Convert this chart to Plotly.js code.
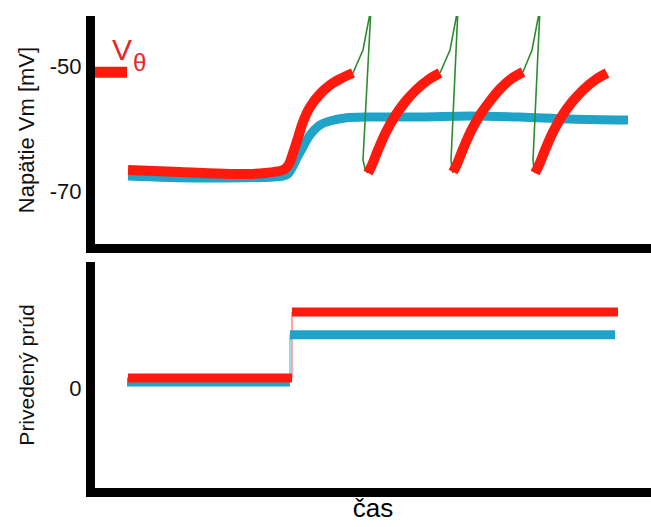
<!DOCTYPE html>
<html>
<head>
<meta charset="utf-8">
<script src="https://cdn.plot.ly/plotly-3.0.1.min.js"></script>
<style>html,body{margin:0;padding:0;background:#fff;}#chart{width:651px;height:527px;}</style>
</head>
<body>
<div id="chart"></div>
<script>
// ---- Membrane potential (top panel), time in arbitrary units, V in mV ----
// red trace (with threshold crossings), segments separated by null
var redT = [5.94, 15.29, 24.28, 30.58, 33.81, 34.53, 35.07, 35.79, 36.33, 37.41, 38.67, 40.47, 42.27, 44.06, 46.40, null,
            49.10, 49.82, 50.90, 52.34, 53.96, 55.76, 57.73, 59.89, 62.05, null,
            64.39, 65.11, 66.19, 67.63, 69.24, 71.04, 72.84, 74.82, 76.98, null,
            79.14, 79.86, 80.94, 82.37, 83.99, 85.79, 87.77, 89.93, 92.09];
var redV = [-66.64, -66.96, -67.28, -67.12, -66.64, -66.16, -65.36, -63.44, -62.00, -58.96, -56.56, -54.48, -53.04, -52.08, -51.12, null,
            -67.12, -65.84, -63.44, -60.56, -58.00, -55.76, -53.84, -52.24, -51.12, null,
            -66.96, -65.68, -63.28, -60.40, -57.84, -55.60, -53.68, -52.08, -50.96, null,
            -67.12, -65.84, -63.44, -60.56, -58.00, -55.76, -53.84, -52.24, -51.12];
// green action-potential spikes
var spikeT = [46.40, 48.20, 49.64, 48.20, 48.56, 49.10, null,
              62.05, 63.85, 65.29, 64.03, 64.21, 64.39, null,
              76.98, 78.60, 80.04, 78.78, 78.96, 79.14];
var spikeV = [-51.12, -47.44, -40.72, -65.04, -66.48, -67.12, null,
              -51.12, -47.44, -40.72, -65.04, -66.48, -67.12, null,
              -50.96, -47.44, -40.72, -65.04, -66.48, -67.12];
// blue trace (no spiking)
var blueT = [5.94, 18.88, 33.81, 34.71, 35.43, 36.33, 37.41, 38.67, 40.47, 42.27, 44.96, 49.46, 58.45, 67.45, 76.44, 85.43, 95.86];
var blueV = [-67.60, -67.92, -67.60, -67.28, -66.32, -64.72, -62.96, -61.04, -59.44, -58.80, -58.32, -58.16, -58.16, -58.00, -58.16, -58.48, -58.64];
// threshold marker
var thrT = [0, 5.76];
var thrV = [-51, -51];

// ---- Injected current (bottom panel) ----
var redIlowT = [5.94, 35.43],  redIlow = [0.13, 0.13];
var redIhighT = [35.43, 94.06], redIhigh = [1.0, 1.0];
var blueIlowT = [5.76, 35.07], blueIlow = [0.08, 0.08];
var blueIhighT = [35.07, 93.53], blueIhigh = [0.70, 0.70];

var RED = '#ff1a0d', BLUE = '#1fa3c8', GREEN = '#2e8b2e';
var FONT = 'Liberation Sans, Arial, sans-serif';

var traces = [
  {x: blueT, y: blueV, xaxis: 'x', yaxis: 'y', mode: 'lines', line: {color: BLUE, width: 9, shape: 'spline', smoothing: 1}},
  {x: spikeT, y: spikeV, xaxis: 'x', yaxis: 'y', mode: 'lines', line: {color: GREEN, width: 1.6}, connectgaps: false},
  {x: redT, y: redV, xaxis: 'x', yaxis: 'y', mode: 'lines', line: {color: RED, width: 10, shape: 'spline', smoothing: 1}, connectgaps: false},
  {x: thrT, y: thrV, xaxis: 'x', yaxis: 'y', mode: 'lines', line: {color: RED, width: 11}},
  // current steps
  {x: [blueIlowT[1], blueIhighT[0]], y: [blueIlow[1], blueIhigh[0]], xaxis: 'x2', yaxis: 'y2', mode: 'lines', line: {color: 'rgba(31,163,200,0.45)', width: 2}},
  {x: [redIlowT[1], redIhighT[0]], y: [redIlow[1], redIhigh[0]], xaxis: 'x2', yaxis: 'y2', mode: 'lines', line: {color: 'rgba(255,60,60,0.45)', width: 2}},
  {x: blueIlowT, y: blueIlow, xaxis: 'x2', yaxis: 'y2', mode: 'lines', line: {color: BLUE, width: 9}},
  {x: blueIhighT, y: blueIhigh, xaxis: 'x2', yaxis: 'y2', mode: 'lines', line: {color: BLUE, width: 9}},
  {x: redIlowT, y: redIlow, xaxis: 'x2', yaxis: 'y2', mode: 'lines', line: {color: RED, width: 9}},
  {x: redIhighT, y: redIhigh, xaxis: 'x2', yaxis: 'y2', mode: 'lines', line: {color: RED, width: 9}}
];

var axisBase = {showline: true, linecolor: '#000', linewidth: 9, showgrid: false, zeroline: false, ticks: '', fixedrange: true};

var layout = {
  width: 651, height: 527,
  margin: {l: 95, r: 0, t: 16, b: 39},
  paper_bgcolor: '#fff', plot_bgcolor: '#fff',
  showlegend: false,
  font: {family: FONT, color: '#000'},
  xaxis: Object.assign({}, axisBase, {domain: [0, 1], range: [0, 100], anchor: 'y', showticklabels: false}),
  yaxis: Object.assign({}, axisBase, {domain: [0.5169, 1], range: [-78.48, -42], anchor: 'x',
    tickvals: [-50, -70], ticktext: ['-50', '-70'], tickfont: {size: 22, color: '#111'},
    title: {text: 'Napätie Vm [mV]', font: {size: 22, color: '#111'}, standoff: 13}}),
  xaxis2: Object.assign({}, axisBase, {domain: [0, 1], range: [0, 100], anchor: 'y2', showticklabels: false,
    title: {text: 'čas', font: {size: 26, color: '#000'}, standoff: 6}}),
  yaxis2: Object.assign({}, axisBase, {domain: [0, 0.4788], range: [-1.316, 1.658], anchor: 'x2',
    tickvals: [0], ticktext: ['0'], tickfont: {size: 22, color: '#111'},
    title: {text: 'Privedený prúd', font: {size: 21, color: '#111'}, standoff: 32}}),
  annotations: [
    {xref: 'x', yref: 'y', x: 4.86, y: -47.4, text: 'V', showarrow: false, font: {size: 30, color: '#e8262a', family: FONT}},
    {xref: 'x', yref: 'y', x: 8.09, y: -49.4, text: 'θ', showarrow: false, font: {size: 24, color: '#e8262a', family: FONT}}
  ]
};

Plotly.newPlot('chart', traces, layout, {displayModeBar: false, staticPlot: true});
</script>
</body>
</html>
